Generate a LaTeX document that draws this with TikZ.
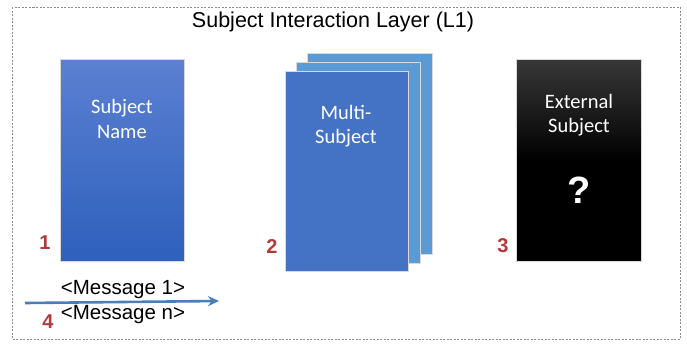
\documentclass[tikz,border=0pt]{standalone}
\usepackage{fontspec}
\setmainfont{Liberation Sans}
\newfontfamily\boxfont{Carlito}
\definecolor{frontblue}{HTML}{4472C4}
\definecolor{backblue}{HTML}{5B9BD5}
\definecolor{topblue}{HTML}{5B80D2}
\definecolor{botblue}{HTML}{2E60BC}
\definecolor{numred}{HTML}{B23A3A}
\definecolor{arrowblue}{HTML}{4A7EBB}
\definecolor{dashgray}{HTML}{8C8C8C}
\usetikzlibrary{arrows.meta}
\begin{document}
\begin{tikzpicture}[x=1pt,y=-1pt,
  boxtext/.style={font=\boxfont\fontsize{20.5}{24.5}\selectfont, text=white, align=center},
  num/.style={font=\bfseries\fontsize{20}{22}\selectfont, text=numred},
  msg/.style={font=\fontsize{20.5}{22}\selectfont},
  card/.style={draw=white!85!black, line width=0.8pt}]
\useasboundingbox (0,0) rectangle (687,343);
% frame
\draw[dashgray, dashed, dash pattern=on 2pt off 1.5pt, line width=0.6pt] (12,7) rectangle (680,339);
\node[font=\fontsize{21.5}{24}\selectfont] (title) at (333,22) {Subject Interaction Layer (L1)};
% box 1
\shade[top color=topblue, bottom color=botblue] (60,59) rectangle (184,261);
\draw[card] (60,59) rectangle (184,261);
\node[boxtext] (t1) at (122,119) {Subject\\Name};
\node[num] (n1) at (45,243) {1};
% stacked box 2
\fill[backblue] (307,53) rectangle (432,254);
\draw[card] (307,53) rectangle (432,254);
\fill[backblue] (296,62) rectangle (420,263);
\draw[card] (296,62) rectangle (420,263);
\fill[frontblue] (285,71) rectangle (408,271);
\draw[card] (285,71) rectangle (408,271);
\node[boxtext] (t2) at (346,126) {Multi-\\Subject};
\node[num] (n2) at (272,247) {2};
% box 3
\fill[black] (516,59) rectangle (641,261);
\shade[top color=black!78, bottom color=black] (516,59) rectangle (641,160);
\draw[card] (516,59) rectangle (641,261);
\node[boxtext] (t3) at (579,115) {External\\Subject};
\node[font=\bfseries\fontsize{38}{40}\selectfont, text=white] (q) at (579,190) {?};
\node[num] (n3) at (503,246) {3};
% messages
\coordinate (a0) at (25,303);
\coordinate (a1) at (219,301);
\draw[arrowblue, line width=2.6pt, -{Stealth[length=11pt,width=10pt]}] (a0) -- (a1);
\node[msg] (m1) at (123,290) {<Message 1>};
\node[msg] (mn) at (123,315) {<Message n>};
\node[num] (n4) at (48,322) {4};
\end{tikzpicture}
\end{document}
